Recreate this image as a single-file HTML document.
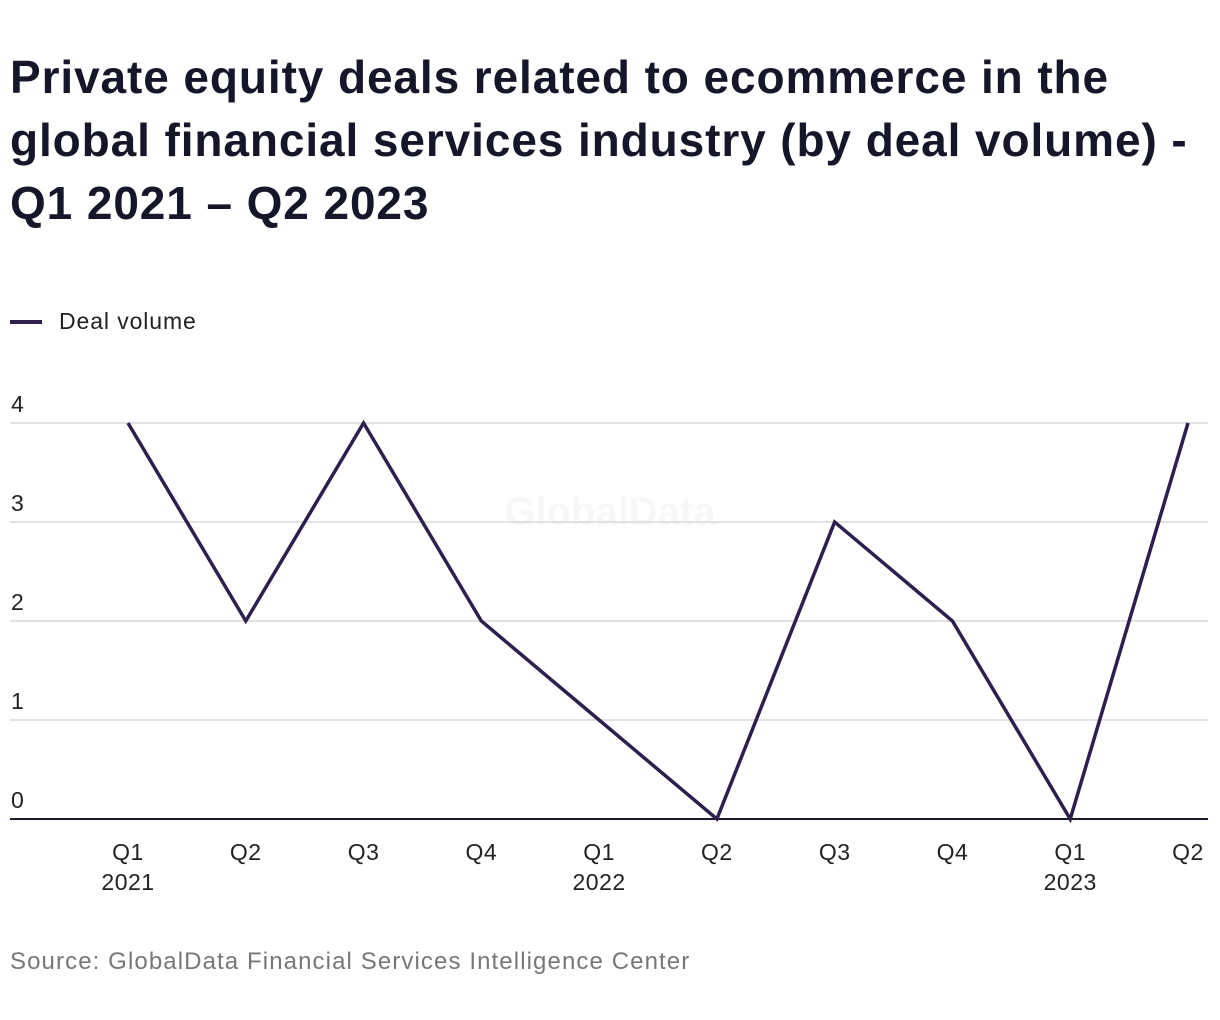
<!DOCTYPE html>
<html><head><meta charset="utf-8"><style>
html,body{margin:0;padding:0;background:#fff;width:1220px;height:1020px;overflow:hidden}
body{font-family:"Liberation Sans",sans-serif;position:relative}
#title{position:absolute;left:10px;top:46px;margin:0;font-size:46px;line-height:63px;font-weight:bold;color:#16162a;letter-spacing:0.9px}
#legend{position:absolute;left:10px;top:308px;font-size:23px;color:#222;display:flex;align-items:center;letter-spacing:0.9px}
#legend span.sw{display:inline-block;width:32px;height:4px;background:#2d1f4e;margin-right:17px}
#source{position:absolute;left:10px;top:948px;font-size:24px;color:#777;letter-spacing:1.1px}
svg{position:absolute;left:0;top:0}
</style></head><body>
<h1 id="title">Private equity deals related to ecommerce in the<br>global financial services industry (by deal volume) -<br>Q1 2021 – Q2 2023</h1>
<div id="legend"><span class="sw"></span><span>Deal volume</span></div>
<svg id="chart" width="1220" height="1020"></svg>
<div id="source">Source: GlobalData Financial Services Intelligence Center</div>
<script>
const categories=["Q1","Q2","Q3","Q4","Q1","Q2","Q3","Q4","Q1","Q2"];
const years=["2021","","","","2022","","","","2023",""];
const values=[4,2,4,2,1,0,3,2,0,4];
const yTicks=[0,1,2,3,4];
const NS="http://www.w3.org/2000/svg";
const svg=document.getElementById('chart');
const x0=128,x1=1188,yBase=819,yTop=423,yMax=4;
const xs=i=>x0+(x1-x0)*i/(categories.length-1);
const ys=v=>yBase-(yBase-yTop)*v/yMax;
function mk(t,a){const e=document.createElementNS(NS,t);for(const k in a)e.setAttribute(k,a[k]);svg.appendChild(e);return e;}
const wm=mk('text',{x:610,y:525,'text-anchor':'middle','font-size':40,'font-weight':'bold',fill:'#f7f7f7','font-family':'Liberation Sans'});
wm.textContent='GlobalData';


yTicks.forEach(v=>{
  const l=mk('line',{x1:10,x2:1208,y1:ys(v),y2:ys(v),stroke:v===0?'#1a1a2e':'#d9d9d9','stroke-width':v===0?2:1.5});
  
  
  const t=mk('text',{x:11,y:ys(v)-11,'font-size':23,fill:'#222','font-family':'Liberation Sans'});
  t.textContent=v;
  
  
});
categories.forEach((c,i)=>{
  const t=mk('text',{x:xs(i),y:860,'text-anchor':'middle','font-size':23,fill:'#222','font-family':'Liberation Sans','letter-spacing':0.5});
  t.textContent=c;
  
  
  if(years[i]){const y=mk('text',{x:xs(i),y:890,'text-anchor':'middle','font-size':23,fill:'#222','font-family':'Liberation Sans','letter-spacing':0.5});
  y.textContent=years[i];
  
  }
});
const p=mk('polyline',{points:values.map((v,i)=>xs(i)+','+ys(v)).join(' '),fill:'none',stroke:'#2d1f4e','stroke-width':3.5,'stroke-linejoin':'miter'});


</script>
</body></html>
